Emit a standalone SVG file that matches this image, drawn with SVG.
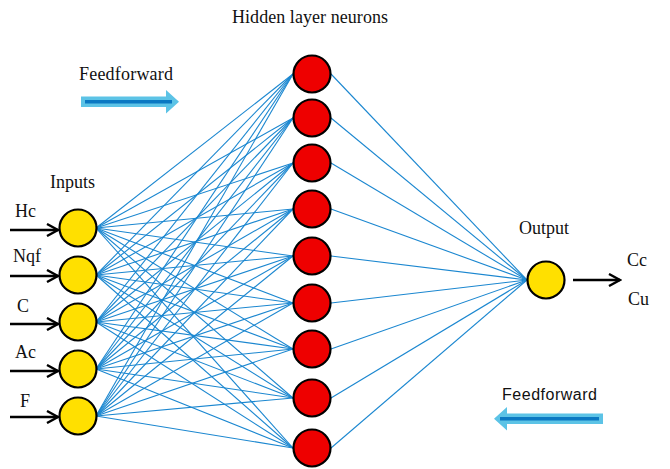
<svg xmlns="http://www.w3.org/2000/svg" width="670" height="469" viewBox="0 0 670 469">
<style>
.serif{font-family:"Liberation Serif","Times New Roman",serif;font-size:18px;fill:#111}
.sans{font-family:"Liberation Sans",Arial,sans-serif;font-size:16px;fill:#111}
.conn line{stroke:#1b87d0;stroke-width:1.1}
.in{fill:#ffe000;stroke:#000;stroke-width:2.2}
.hid{fill:#ee0000;stroke:#000;stroke-width:2.2}
.arr{stroke:#000;stroke-width:2.6;fill:none}
.band{fill:#5cc3e6}
.core{stroke:#0a78c2;stroke-width:3.5}
</style>
<defs>
<marker id="ah" viewBox="0 0 14 14" refX="12.5" refY="7" markerWidth="14" markerHeight="14" markerUnits="userSpaceOnUse" orient="auto">
<path d="M1.5,1 L12.5,7 L1.5,13" fill="none" stroke="#000" stroke-width="2.4"/>
</marker>
</defs>
<rect width="670" height="469" fill="#fff"/>
<g id="connectors" class="conn">
<line x1="96" y1="228" x2="293" y2="74"/><line x1="96" y1="228" x2="293" y2="118"/><line x1="96" y1="228" x2="293" y2="163"/><line x1="96" y1="228" x2="293" y2="209"/><line x1="96" y1="228" x2="293" y2="256"/><line x1="96" y1="228" x2="293" y2="303"/><line x1="96" y1="228" x2="293" y2="349"/><line x1="96" y1="228" x2="293" y2="398"/><line x1="96" y1="228" x2="293" y2="448"/>
<line x1="96" y1="275" x2="293" y2="74"/><line x1="96" y1="275" x2="293" y2="118"/><line x1="96" y1="275" x2="293" y2="163"/><line x1="96" y1="275" x2="293" y2="209"/><line x1="96" y1="275" x2="293" y2="256"/><line x1="96" y1="275" x2="293" y2="303"/><line x1="96" y1="275" x2="293" y2="349"/><line x1="96" y1="275" x2="293" y2="398"/><line x1="96" y1="275" x2="293" y2="448"/>
<line x1="96" y1="322" x2="293" y2="74"/><line x1="96" y1="322" x2="293" y2="118"/><line x1="96" y1="322" x2="293" y2="163"/><line x1="96" y1="322" x2="293" y2="209"/><line x1="96" y1="322" x2="293" y2="256"/><line x1="96" y1="322" x2="293" y2="303"/><line x1="96" y1="322" x2="293" y2="349"/><line x1="96" y1="322" x2="293" y2="398"/><line x1="96" y1="322" x2="293" y2="448"/>
<line x1="96" y1="369" x2="293" y2="74"/><line x1="96" y1="369" x2="293" y2="118"/><line x1="96" y1="369" x2="293" y2="163"/><line x1="96" y1="369" x2="293" y2="209"/><line x1="96" y1="369" x2="293" y2="256"/><line x1="96" y1="369" x2="293" y2="303"/><line x1="96" y1="369" x2="293" y2="349"/><line x1="96" y1="369" x2="293" y2="398"/><line x1="96" y1="369" x2="293" y2="448"/>
<line x1="96" y1="416" x2="293" y2="74"/><line x1="96" y1="416" x2="293" y2="118"/><line x1="96" y1="416" x2="293" y2="163"/><line x1="96" y1="416" x2="293" y2="209"/><line x1="96" y1="416" x2="293" y2="256"/><line x1="96" y1="416" x2="293" y2="303"/><line x1="96" y1="416" x2="293" y2="349"/><line x1="96" y1="416" x2="293" y2="398"/><line x1="96" y1="416" x2="293" y2="448"/>
<line x1="331" y1="74" x2="527" y2="280"/><line x1="331" y1="118" x2="527" y2="280"/><line x1="331" y1="163" x2="527" y2="280"/><line x1="331" y1="209" x2="527" y2="280"/><line x1="331" y1="256" x2="527" y2="280"/><line x1="331" y1="303" x2="527" y2="280"/><line x1="331" y1="349" x2="527" y2="280"/><line x1="331" y1="398" x2="527" y2="280"/><line x1="331" y1="448" x2="527" y2="280"/>
</g>
<g id="inputs">
<text class="serif" x="50" y="188">Inputs</text>
<g id="in-hc"><text class="serif" x="15" y="217">Hc</text><line class="arr" x1="10" y1="230" x2="58" y2="230" marker-end="url(#ah)"/><circle class="in" cx="78" cy="228" r="18.5"/></g>
<g id="in-nqf"><text class="serif" x="13" y="262">Nqf</text><line class="arr" x1="10" y1="276" x2="58" y2="276" marker-end="url(#ah)"/><circle class="in" cx="78" cy="275" r="18.5"/></g>
<g id="in-c"><text class="serif" x="17" y="312">C</text><line class="arr" x1="10" y1="324" x2="58" y2="324" marker-end="url(#ah)"/><circle class="in" cx="78" cy="322" r="18.5"/></g>
<g id="in-ac"><text class="serif" x="15" y="358">Ac</text><line class="arr" x1="10" y1="371" x2="58" y2="371" marker-end="url(#ah)"/><circle class="in" cx="78" cy="369" r="18.5"/></g>
<g id="in-f"><text class="serif" x="20" y="407">F</text><line class="arr" x1="10" y1="417" x2="58" y2="417" marker-end="url(#ah)"/><circle class="in" cx="78" cy="416" r="18.5"/></g>
</g>
<g id="hidden">
<text class="serif" x="232" y="23" textLength="156">Hidden layer neurons</text>
<circle id="h1" class="hid" cx="312" cy="74" r="18.5"/>
<circle id="h2" class="hid" cx="312" cy="118" r="18.5"/>
<circle id="h3" class="hid" cx="312" cy="163" r="18.5"/>
<circle id="h4" class="hid" cx="312" cy="209" r="18.5"/>
<circle id="h5" class="hid" cx="312" cy="256" r="18.5"/>
<circle id="h6" class="hid" cx="312" cy="303" r="18.5"/>
<circle id="h7" class="hid" cx="312" cy="349" r="18.5"/>
<circle id="h8" class="hid" cx="312" cy="398" r="18.5"/>
<circle id="h9" class="hid" cx="312" cy="448" r="18.5"/>
</g>
<g id="output">
<text class="serif" x="519" y="234">Output</text>
<circle class="in" cx="546" cy="280" r="18.5"/>
<line class="arr" x1="573" y1="280" x2="620" y2="280" marker-end="url(#ah)"/>
<text class="serif" x="627" y="266">Cc</text>
<text class="serif" x="628" y="305">Cu</text>
</g>
<g id="ff-top">
<text class="serif" x="79" y="80" textLength="94">Feedforward</text>
<path class="band" d="M81,96.5 H166 V90 L179,101.7 L166,113.5 V107 H81 Z"/>
<line class="core" x1="85" y1="101.7" x2="172" y2="101.7"/>
</g>
<g id="ff-bottom">
<text class="sans" x="502" y="400" textLength="95">Feedforward</text>
<path class="band" d="M603,413.5 H507 V407 L494,418.7 L507,430.5 V424 H603 Z"/>
<line class="core" x1="599" y1="418.7" x2="500" y2="418.7"/>
</g>
</svg>
